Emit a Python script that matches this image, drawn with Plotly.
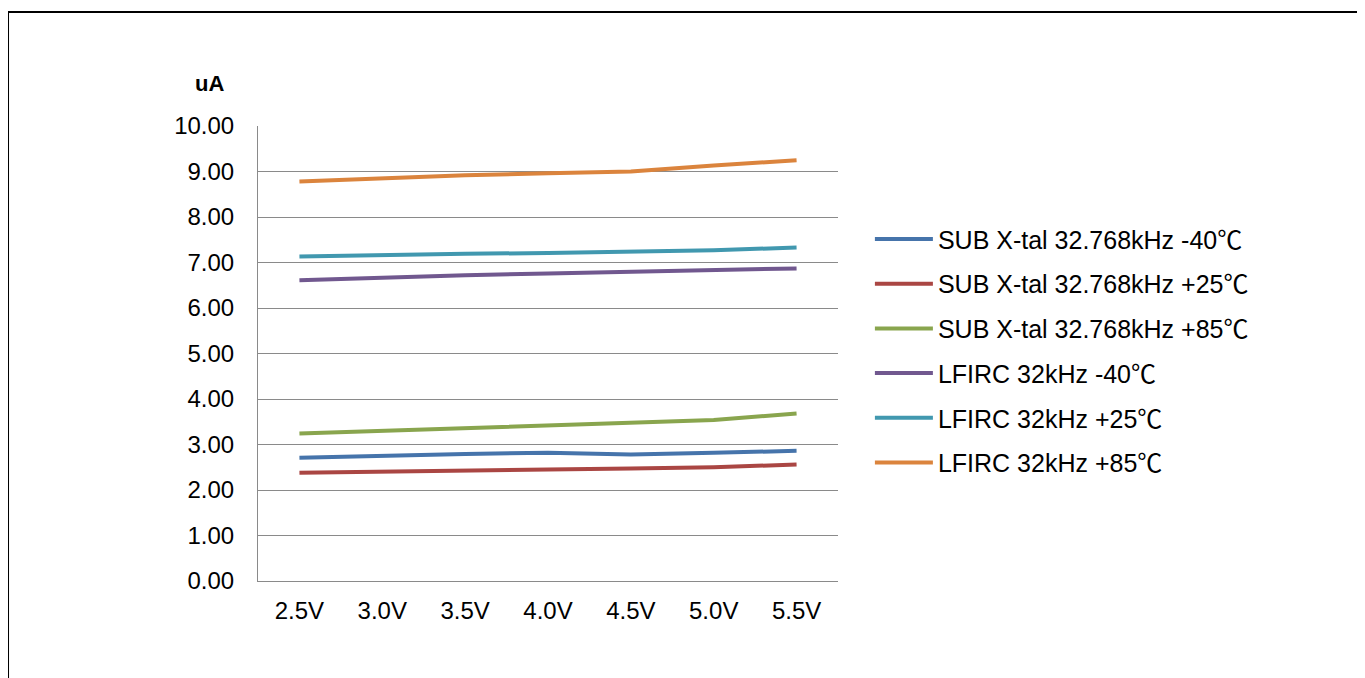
import plotly.graph_objects as go

# supply voltage categories
voltages = ["2.5V", "3.0V", "3.5V", "4.0V", "4.5V", "5.0V", "5.5V"]

# current consumption in uA
sub_m40 = [2.71, 2.76, 2.79, 2.82, 2.78, 2.82, 2.86]
sub_p25 = [2.38, 2.41, 2.43, 2.45, 2.47, 2.50, 2.56]
sub_p85 = [3.24, 3.30, 3.35, 3.42, 3.47, 3.54, 3.68]
lfirc_m40 = [6.61, 6.67, 6.72, 6.76, 6.79, 6.82, 6.87]
lfirc_p25 = [7.13, 7.17, 7.19, 7.21, 7.23, 7.27, 7.33]
lfirc_p85 = [8.78, 8.86, 8.92, 8.96, 9.00, 9.13, 9.25]

series_names = [
    "SUB X-tal 32.768kHz -40℃",
    "SUB X-tal 32.768kHz +25℃",
    "SUB X-tal 32.768kHz +85℃",
    "LFIRC 32kHz -40℃",
    "LFIRC 32kHz +25℃",
    "LFIRC 32kHz +85℃",
]
series_values = [sub_m40, sub_p25, sub_p85, lfirc_m40, lfirc_p25, lfirc_p85]
colors = ["#4674AB", "#AA4643", "#89A54E", "#71588F", "#4198AF", "#DB843D"]

FONT = "Liberation Sans, Arial, Noto Sans CJK SC, sans-serif"
CJK_SPAN = "<span style='font-family:Noto Sans CJK SC'>℃</span>"

fig = go.Figure()
for i, (name, vals) in enumerate(zip(series_names, series_values)):
    # the degree sign in the original is the wide CJK glyph
    label = name.replace("℃", CJK_SPAN)
    fig.add_trace(go.Scatter(
        x=voltages, y=vals, name=label, mode="lines",
        line=dict(color=colors[i], width=4),
        legendgroup=f"g{i}",
    ))

# page body adds an 8px offset, so margins are shifted by that much
fig.update_layout(
    width=1365, height=678,
    paper_bgcolor="white", plot_bgcolor="white",
    margin=dict(l=250, r=535, t=118, b=105),
    font=dict(family=FONT, size=24, color="black"),
    showlegend=True,
    legend=dict(
        x=1.055, y=0.506, xanchor="left", yanchor="middle",
        font=dict(size=25), itemwidth=58, tracegroupgap=9.2,
        bgcolor="rgba(0,0,0,0)",
    ),
    xaxis=dict(
        type="category", showgrid=False,
        showline=True, linecolor="#8a8a8a", linewidth=1,
        ticks="", ticklabelstandoff=8,
        range=[-0.5, 6.5],
    ),
    yaxis=dict(
        range=[0, 10], dtick=1, tickformat=".2f",
        showgrid=True, gridcolor="#8a8a8a", gridwidth=1,
        showline=True, linecolor="#8a8a8a", linewidth=1,
        zeroline=False, ticks="", ticklabelstandoff=18,
    ),
    annotations=[dict(
        text="<b>uA</b>", xref="paper", yref="paper",
        x=-0.083, y=1.0945, showarrow=False,
        xanchor="center", yanchor="middle", font=dict(size=22),
    )],
    shapes=[dict(
        type="rect", xref="paper", yref="paper",
        x0=-0.431, x1=2.0, y0=-0.3, y1=1.2505,
        line=dict(color="black", width=2), layer="below",
    )],
)

fig.write_html("out.html")
